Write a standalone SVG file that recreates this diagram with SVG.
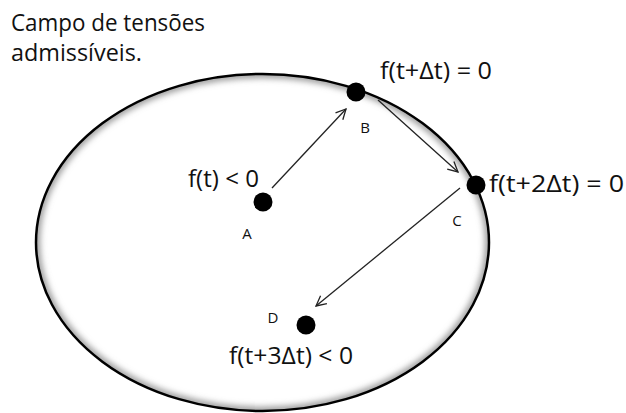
<svg xmlns="http://www.w3.org/2000/svg" width="626" height="413" viewBox="0 0 626 413">
  <style>
    .t { font-family: "Open Sans", "Liberation Sans", sans-serif; fill: #111; }
    .big { font-size: 24px; }
    .lbl { font-size: 23px; }
    .sm { font-size: 15px; }
    .dot { fill: #000; }
    .conn { stroke: #222; stroke-width: 1.3; fill: none; marker-end: url(#arr); }
  </style>
  <defs>
    <marker id="arr" viewBox="0 0 12 12" refX="11" refY="6" markerWidth="12" markerHeight="12" markerUnits="userSpaceOnUse" orient="auto">
      <path d="M1,1 L11,6 L1,11" fill="none" stroke="#222" stroke-width="1.3"/>
    </marker>
    <clipPath id="inside">
      <ellipse cx="262.5" cy="242.5" rx="226.5" ry="168.5"/>
    </clipPath>
    <filter id="blur" x="-10%" y="-10%" width="120%" height="120%">
      <feGaussianBlur stdDeviation="3"/>
    </filter>
  </defs>
  <rect width="626" height="413" fill="#fff"/>

  <g id="region">
    <g clip-path="url(#inside)">
      <ellipse cx="262.5" cy="242.5" rx="226.5" ry="168.5" fill="none" stroke="#999" stroke-width="8" filter="url(#blur)"/>
    </g>
    <ellipse cx="262.5" cy="242.5" rx="226.5" ry="168.5" fill="none" stroke="#000" stroke-width="2.5"/>
  </g>

  <g id="title">
    <text class="t big" x="11" y="31" textLength="194" lengthAdjust="spacingAndGlyphs">Campo de tensões</text>
    <text class="t big" x="11" y="61" textLength="131" lengthAdjust="spacingAndGlyphs">admissíveis.</text>
  </g>

  <g id="connectors">
    <line class="conn" x1="272" y1="188" x2="346" y2="109"/>
    <line class="conn" x1="378" y1="100" x2="458" y2="172"/>
    <line class="conn" x1="460" y1="188" x2="316" y2="306"/>
  </g>

  <g id="node-A">
    <circle class="dot" cx="263" cy="202" r="9.5"/>
    <text class="t sm" x="247" y="239" text-anchor="middle">A</text>
    <text class="t lbl" x="188" y="187" textLength="71" lengthAdjust="spacingAndGlyphs">f(t) &lt; 0</text>
  </g>

  <g id="node-B">
    <circle class="dot" cx="356" cy="92" r="9.5"/>
    <text class="t sm" x="365" y="133" text-anchor="middle">B</text>
    <text class="t lbl" x="380" y="79" textLength="112" lengthAdjust="spacingAndGlyphs">f(t+Δt) = 0</text>
  </g>

  <g id="node-C">
    <circle class="dot" cx="476" cy="185" r="9.5"/>
    <text class="t sm" x="457" y="226" text-anchor="middle">C</text>
    <text class="t lbl" x="489" y="192" textLength="135" lengthAdjust="spacingAndGlyphs">f(t+2Δt) = 0</text>
  </g>

  <g id="node-D">
    <circle class="dot" cx="306" cy="325" r="9.5"/>
    <text class="t sm" x="273" y="323" text-anchor="middle">D</text>
    <text class="t lbl" x="229" y="364" textLength="124" lengthAdjust="spacingAndGlyphs">f(t+3Δt) &lt; 0</text>
  </g>
</svg>
